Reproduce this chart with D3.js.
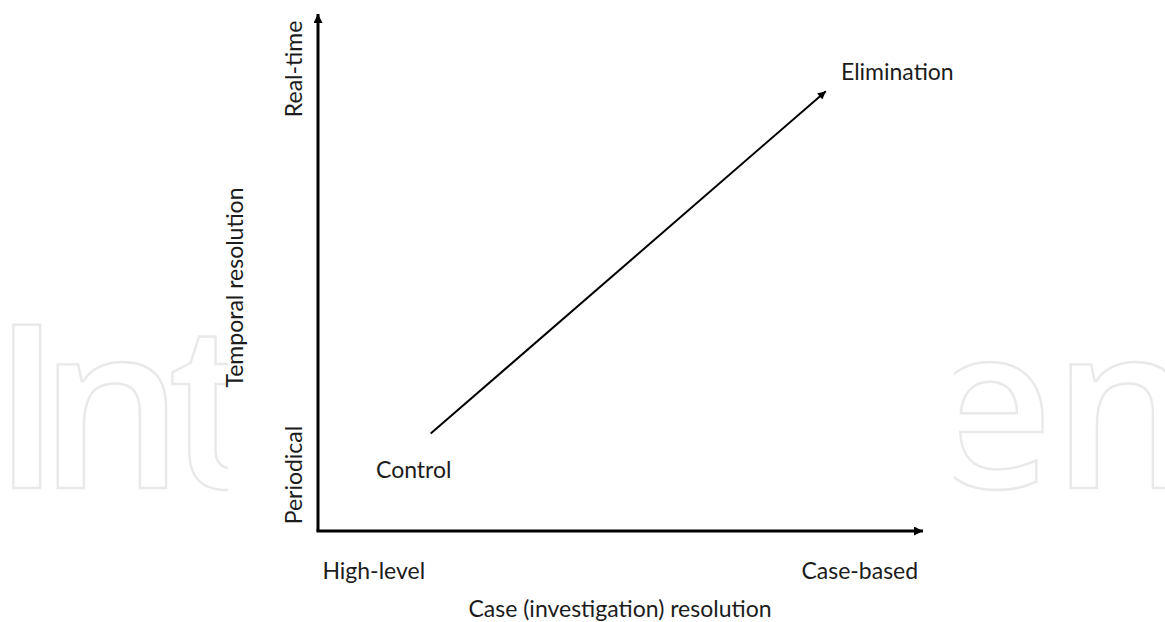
<!DOCTYPE html>
<html>
<head>
<meta charset="utf-8">
<script src="https://cdn.jsdelivr.net/npm/d3@7"></script>
<style>
  html, body { margin: 0; padding: 0; background: #fff; }
  svg { display: block; }
</style>
</head>
<body>
<svg id="chart" width="1165" height="622"></svg>
<script>
// ---- data ----
const xTickValues = [9.2, 89.4];
const xTickLabels = ["High-level", "Case-based"];
const yTickValues = [10.8, 89.2];
const yTickLabels = ["Periodical", "Real-time"];
const xTitle = "Case (investigation) resolution";
const yTitle = "Temporal resolution";
const stageNames = ["Control", "Elimination"];
const arrowX = [18.6, 83.8];   // transition from Control to Elimination
const arrowY = [18.8, 84.9];
const stageLabelX = [15.8, 86.3];
const stageLabelY = [10.3, 87.1];
const watermarkParts = ["Int", "en"];

// ---- layout ----
const W = 1165, H = 622;
const x = d3.scaleLinear().domain([0, 100]).range([318, 924]);
const y = d3.scaleLinear().domain([0, 100]).range([531, 13]);

const svg = d3.select("#chart");
const font = "Lato, 'Open Sans', sans-serif";
const fs = 23;
const txt = "#1c1c1c";

// watermark (background decoration, partly hidden behind the figure)
const wmGlyphX = ["-8 39 168", "922 1052"];
const defs = svg.append("defs");
defs.append("clipPath").attr("id", "wmclip")
  .append("path")
  .attr("d", `M0,0H228V${H}H0Z M954,0H${W}V${H}H954Z`);
const wmG = svg.append("g").attr("clip-path", "url(#wmclip)");
wmG.selectAll("text").data(watermarkParts).join("text")
  .attr("x", (d, i) => wmGlyphX[i])
  .attr("y", 488)
  .attr("font-family", "'Open Sans', sans-serif")
  .attr("font-weight", 600)
  .attr("font-size", 228)
  .attr("fill", "none")
  .attr("stroke", "#e9e9e9")
  .attr("stroke-width", 2.4)
  .text(d => d);

// markers
defs.append("marker").attr("id", "axArrow")
  .attr("viewBox", "0 0 10 10").attr("refX", 10).attr("refY", 5)
  .attr("markerUnits", "userSpaceOnUse")
  .attr("markerWidth", 11).attr("markerHeight", 9)
  .attr("orient", "auto")
  .append("path").attr("d", "M0,0L10,5L0,10Z").attr("fill", "#000");
defs.append("marker").attr("id", "diagArrow")
  .attr("viewBox", "0 0 10 10").attr("refX", 10).attr("refY", 5)
  .attr("markerUnits", "userSpaceOnUse")
  .attr("markerWidth", 10).attr("markerHeight", 8)
  .attr("orient", "auto")
  .append("path").attr("d", "M0,0L10,5L0,10Z").attr("fill", "#000");

// axes
const [x0, x1] = x.domain();
const [y0, y1] = y.domain();
svg.append("line")
  .attr("x1", x(x0)).attr("y1", y(y0))
  .attr("x2", x(x0)).attr("y2", y(y1) + 1)
  .attr("stroke", "#000").attr("stroke-width", 3)
  .attr("marker-end", "url(#axArrow)");
svg.append("line")
  .attr("x1", x(x0) - 1.5).attr("y1", y(y0))
  .attr("x2", x(x1) - 1).attr("y2", y(y0))
  .attr("stroke", "#000").attr("stroke-width", 3)
  .attr("marker-end", "url(#axArrow)");

// x tick labels
svg.selectAll(".xt").data(xTickValues).join("text")
  .attr("class", "xt")
  .attr("x", d => x(d)).attr("y", 579)
  .attr("text-anchor", "middle")
  .attr("font-family", font).attr("font-size", fs).attr("fill", txt)
  .text((d, i) => xTickLabels[i]);

// y tick labels
svg.selectAll(".yt").data(yTickValues).join("text")
  .attr("class", "yt")
  .attr("transform", d => `translate(302,${y(d)}) rotate(-90)`)
  .attr("text-anchor", "middle")
  .attr("font-family", font).attr("font-size", fs).attr("fill", txt)
  .text((d, i) => yTickLabels[i]);

// axis titles
svg.append("text")
  .attr("x", (x(x0) + x(x1)) / 2 - 1).attr("y", 617)
  .attr("text-anchor", "middle")
  .attr("font-family", font).attr("font-size", fs).attr("fill", txt)
  .text(xTitle);
svg.append("text")
  .attr("transform", `translate(243,${y(47)}) rotate(-90)`)
  .attr("text-anchor", "middle")
  .attr("font-family", font).attr("font-size", fs).attr("fill", txt)
  .text(yTitle);

// transition arrow
svg.append("line")
  .attr("x1", x(arrowX[0])).attr("y1", y(arrowY[0]))
  .attr("x2", x(arrowX[1])).attr("y2", y(arrowY[1]))
  .attr("stroke", "#000").attr("stroke-width", 2)
  .attr("marker-end", "url(#diagArrow)");

// stage labels
svg.selectAll(".stage").data(stageNames).join("text")
  .attr("class", "stage")
  .attr("x", (d, i) => x(stageLabelX[i]))
  .attr("y", (d, i) => y(stageLabelY[i]))
  .attr("text-anchor", (d, i) => i === 0 ? "middle" : "start")
  .attr("font-family", font).attr("font-size", fs).attr("fill", txt)
  .text(d => d);
</script>
</body>
</html>
